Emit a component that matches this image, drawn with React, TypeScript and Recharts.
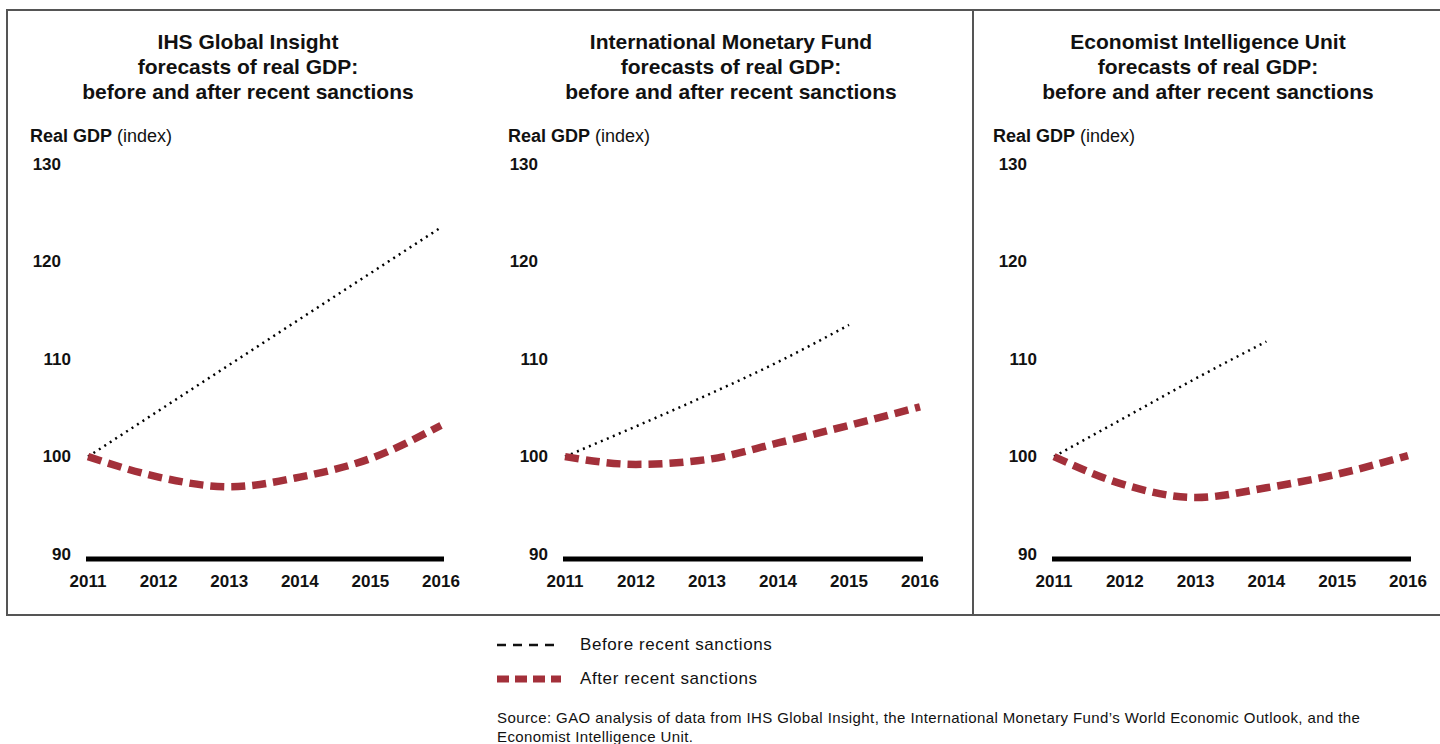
import React from "react";
import { Line, LineChart, XAxis, YAxis } from "recharts";

const years = [2011, 2012, 2013, 2014, 2015, 2016];
const yTicks = [90, 100, 110, 120, 130];

const ihsBefore = [100, 104.7, 109.4, 114.1, 118.8, 123.5];
const ihsAfter = [100, 97.9, 96.9, 97.9, 99.8, 103.2];
const imfBefore = [100, 103.1, 106.3, 109.7, 113.5, null];
const imfAfter = [100, 99.2, 99.7, 101.4, 103.2, 105.1];
const eiuBefore = [100, 104.0, 108.0, 111.8, null, null];
const eiuAfter = [100, 97.1, 95.8, 96.8, 98.2, 100.1];

const titles = [
  "IHS Global Insight",
  "International Monetary Fund",
  "Economist Intelligence Unit",
];

const FONT = "'Liberation Sans', Arial, sans-serif";
const RED = "#a3303a";

type Row = { year: number; before: number | null; after: number };

const buildRows = (before: (number | null)[], after: number[]): Row[] =>
  years.map((year, i) => ({ year, before: before[i], after: after[i] }));

const panels = [
  { title: titles[0], rows: buildRows(ihsBefore, ihsAfter), left: 8, axisW: 78, width: 456, center: 248, labelX: 30 },
  { title: titles[1], rows: buildRows(imfBefore, imfAfter), left: 490, axisW: 73, width: 453, center: 731, labelX: 508 },
  { title: titles[2], rows: buildRows(eiuBefore, eiuAfter), left: 975, axisW: 77, width: 456, center: 1208, labelX: 993 },
];

function YTick(props: any) {
  const { x, y, payload } = props;
  const shift = payload.value >= 120 ? -10 : 0;
  return (
    <text
      x={x + shift}
      y={y}
      textAnchor="end"
      dominantBaseline="central"
      fontFamily={FONT}
      fontSize={17}
      fontWeight="bold"
      fill="#111"
    >
      {payload.value}
    </text>
  );
}

function Panel({ p }: { p: (typeof panels)[number] }) {
  return (
    <>
      <div
        style={{
          position: "absolute",
          left: p.center - 230,
          top: 29,
          width: 460,
          textAlign: "center",
          fontFamily: FONT,
          fontWeight: "bold",
          fontSize: 21,
          lineHeight: "25px",
          color: "#111",
        }}
      >
        {p.title}
        <br />
        forecasts of real GDP:
        <br />
        before and after recent sanctions
      </div>
      <div
        style={{
          position: "absolute",
          left: p.labelX,
          top: 126,
          fontFamily: FONT,
          fontSize: 18,
          color: "#111",
          whiteSpace: "nowrap",
        }}
      >
        <b>Real GDP</b> (index)
      </div>
      <div style={{ position: "absolute", left: p.left, top: 150 }}>
        <LineChart
          width={p.width}
          height={449}
          data={p.rows}
          margin={{ top: 14, right: 20, bottom: 0, left: 0 }}
        >
          <XAxis
            dataKey="year"
            type="number"
            domain={[2011, 2016]}
            ticks={years}
            padding={{ left: 2, right: 3 }}
            axisLine={{ stroke: "#000", strokeWidth: 5 }}
            tickLine={false}
            tickMargin={10}
            height={40}
            tick={{ fontFamily: FONT, fontSize: 17, fontWeight: "bold", fill: "#111" }}
          />
          <YAxis
            domain={[89.5, 130]}
            ticks={yTicks}
            axisLine={false}
            tickLine={false}
            tickMargin={9}
            width={p.axisW}
            tick={<YTick />}
          />
          <Line
            dataKey="before"
            type="monotone"
            stroke="#000"
            strokeWidth={2.5}
            strokeDasharray="2 4.5"
            dot={false}
            isAnimationActive={false}
          />
          <Line
            dataKey="after"
            type="monotone"
            stroke={RED}
            strokeWidth={7.5}
            strokeDasharray="14 7"
            dot={false}
            isAnimationActive={false}
          />
        </LineChart>
      </div>
    </>
  );
}

export default function App() {
  return (
    <div
      style={{
        position: "fixed",
        left: 0,
        top: 0,
        width: 1440,
        height: 744,
        background: "#fff",
        overflow: "hidden",
      }}
    >
      <div
        style={{
          position: "absolute",
          left: 6,
          top: 9,
          width: 1450,
          height: 603,
          borderTop: "2px solid #555",
          borderLeft: "2px solid #555",
          borderBottom: "2px solid #555",
        }}
      />
      <div style={{ position: "absolute", left: 972, top: 9, width: 2, height: 605, background: "#555" }} />
      {panels.map((p) => (
        <Panel key={p.title} p={p} />
      ))}
      <svg style={{ position: "absolute", left: 495, top: 636 }} width={70} height={52}>
        <line x1={2} y1={9} x2={64} y2={9} stroke="#111" strokeWidth={2.5} strokeDasharray="9 7" />
        <line x1={2} y1={43} x2={66} y2={43} stroke={RED} strokeWidth={7} strokeDasharray="12 6" />
      </svg>
      <div
        style={{
          position: "absolute",
          left: 580,
          top: 628,
          fontFamily: FONT,
          fontSize: 17,
          letterSpacing: 0.6,
          lineHeight: "34px",
          color: "#111",
        }}
      >
        Before recent sanctions
        <br />
        After recent sanctions
      </div>
      <div
        style={{
          position: "absolute",
          left: 497,
          top: 708,
          fontFamily: FONT,
          fontSize: 15,
          letterSpacing: 0.4,
          lineHeight: "19px",
          color: "#111",
          whiteSpace: "nowrap",
        }}
      >
        Source: GAO analysis of data from IHS Global Insight, the International Monetary Fund’s World Economic Outlook, and the
        <br />
        Economist Intelligence Unit.
      </div>
    </div>
  );
}
